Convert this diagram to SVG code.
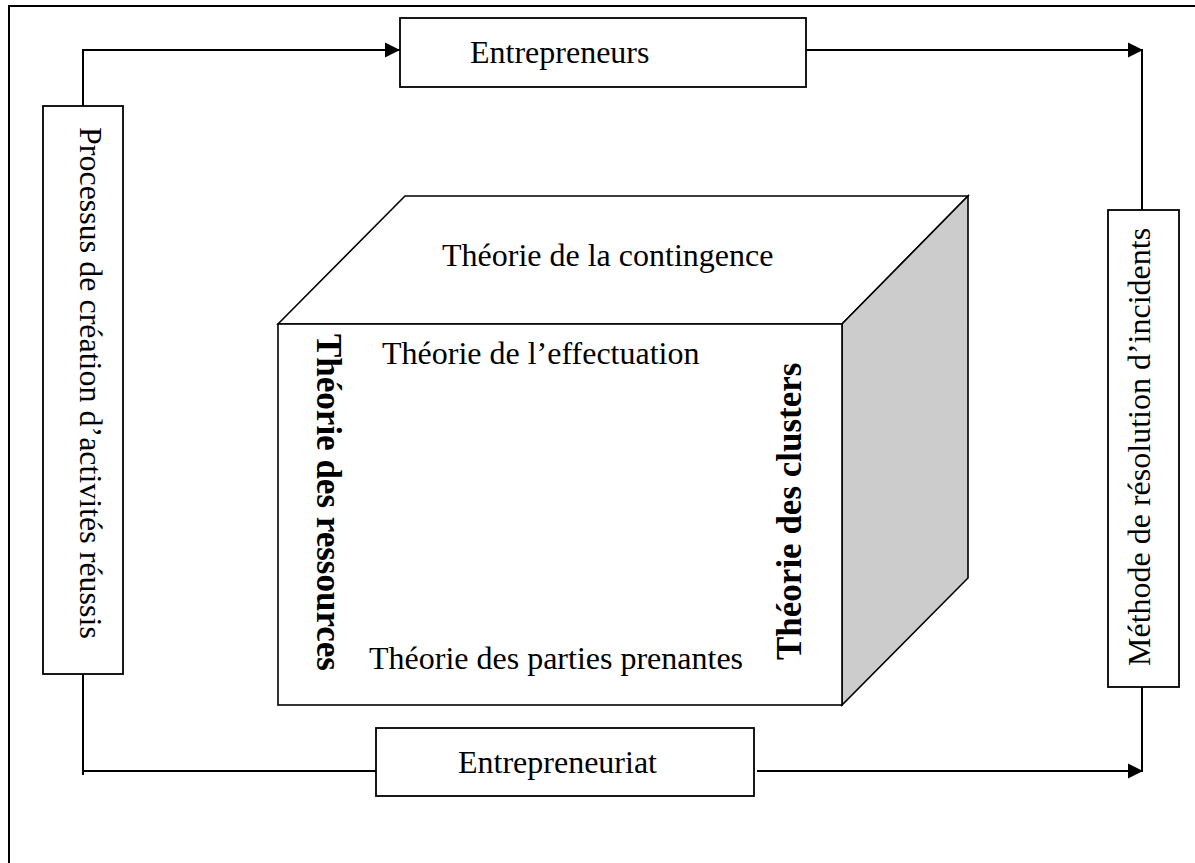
<svg xmlns="http://www.w3.org/2000/svg" width="1195" height="863" viewBox="0 0 1195 863">
<defs>
<style>
.box{fill:#fff;stroke:#000;stroke-width:1.8}
.cube{stroke:#000;stroke-width:1.6;stroke-linejoin:miter}
.conn{fill:none;stroke:#000;stroke-width:2}
.t{font-family:"Liberation Serif","Times New Roman",serif;font-size:32px;fill:#000}
.b{font-family:"Liberation Serif","Times New Roman",serif;font-size:35px;font-weight:bold;fill:#000}
</style>
<marker id="arr" markerUnits="userSpaceOnUse" markerWidth="16" markerHeight="16" viewBox="0 0 16 16" refX="15" refY="8" orient="auto">
<path d="M0,0.5 L15,8 L0,15.5 Z" fill="#000"/>
</marker>
</defs>
<rect width="1195" height="863" fill="#fff"/>
<path d="M9,863 V6 H1195" fill="none" stroke="#000" stroke-width="2"/>
<g id="connectors">
<path class="conn" d="M83,106 V50 H400" marker-end="url(#arr)"/>
<path class="conn" d="M806,50 H1143" marker-end="url(#arr)"/>
<path class="conn" d="M1142,51 V210" stroke-width="1.6"/>
<path class="conn" d="M83,674 V775"/>
<path class="conn" d="M83,771 H380"/>
<path class="conn" d="M757,771 H1143" marker-end="url(#arr)"/>
<path class="conn" d="M1142,687 V771" stroke-width="1.6"/>
</g>
<g id="entrepreneurs">
<rect class="box" x="400" y="18" width="406" height="69"/>
<text class="t" x="470" y="63">Entrepreneurs</text>
</g>
<g id="entrepreneuriat">
<rect class="box" x="376" y="728" width="378" height="68"/>
<text class="t" x="458" y="773">Entrepreneuriat</text>
</g>
<g id="processus">
<rect class="box" x="43" y="106" width="80" height="568"/>
<text class="t" transform="translate(80,127) rotate(90)">Processus de création d’activités réussis</text>
</g>
<g id="methode">
<rect class="box" x="1108" y="210" width="71" height="477"/>
<text class="t" transform="translate(1150,666) rotate(-90)">Méthode de résolution d’incidents</text>
</g>
<g id="cube">
<polygon class="cube" fill="#fff" points="278,324 405,196 968,196 842,324"/>
<polygon class="cube" fill="#cccccc" points="842,324 968,196 968,578 842,705"/>
<rect class="cube" fill="#fff" x="278" y="324" width="564" height="381"/>
<text class="t" x="442" y="266">Théorie de la contingence</text>
<text class="t" x="382" y="364">Théorie de l’effectuation</text>
<text class="t" x="369" y="669">Théorie des parties prenantes</text>
<text class="b" transform="translate(317,334) rotate(90)">Théorie des ressources</text>
<text class="b" transform="translate(801,660) rotate(-90)">Théorie des clusters</text>
</g>
</svg>
